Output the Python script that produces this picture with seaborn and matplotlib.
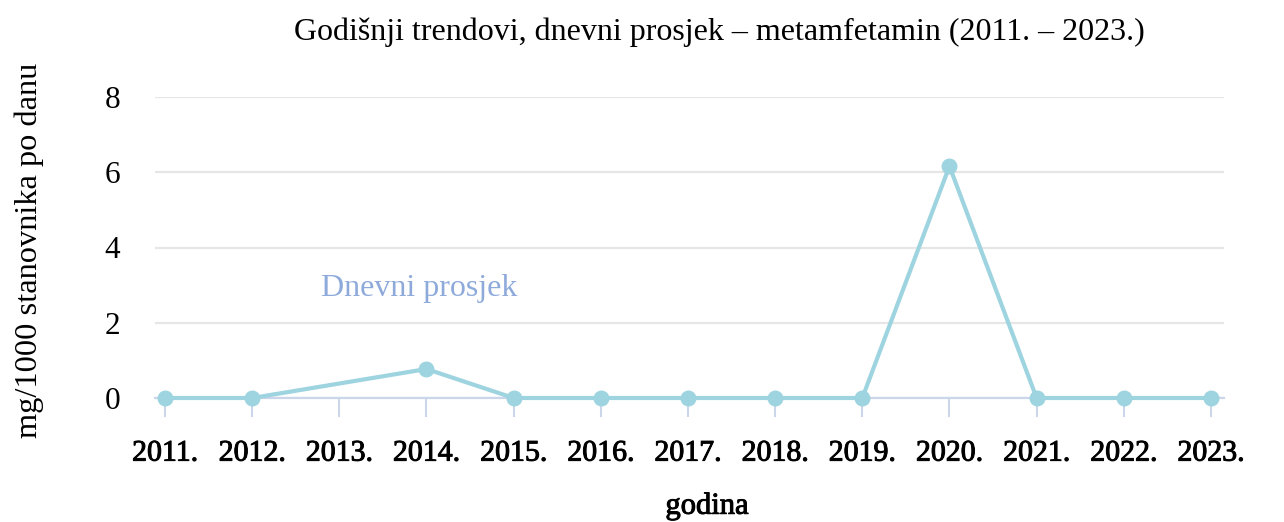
import pandas as pd
import numpy as np
import matplotlib
matplotlib.use("Agg")
import matplotlib.pyplot as plt
import matplotlib.patheffects as pe
import seaborn as sns

# -------------------------------------------------
# Data (2013. has no measurement)
# -------------------------------------------------
all_years = [2011, 2012, 2013, 2014, 2015, 2016, 2017, 2018, 2019, 2020, 2021, 2022, 2023]
years = [2011, 2012, 2014, 2015, 2016, 2017, 2018, 2019, 2020, 2021, 2022, 2023]
values = [0.0, 0.0, 0.77, 0.0, 0.0, 0.0, 0.0, 0.0, 6.16, 0.0, 0.0, 0.0]
tick_labels = [f"{y}." for y in all_years]
y_ticks = [0, 2, 4, 6, 8]

df = pd.DataFrame({"godina": years, "prosjek": values})

# -------------------------------------------------
# Style
# -------------------------------------------------
sns.set_style("white")
plt.rcParams["font.family"] = ["Liberation Serif", "DejaVu Serif"]
plt.rcParams["text.color"] = "black"
plt.rcParams["xtick.color"] = "black"
plt.rcParams["ytick.color"] = "black"

line_color = "#9dd4e0"
axis_color = "#ccd6eb"
grid_color = "#e6e6e6"
heavy = [pe.withStroke(linewidth=0.7, foreground="black")]

W, H = 1284, 522
fig = plt.figure(figsize=(W / 100, H / 100), dpi=100)
ax = fig.add_axes([155 / W, 1 - 398 / H, (1224 - 155) / W, (398 - 97) / H])

sns.lineplot(data=df, x="godina", y="prosjek", ax=ax, color=line_color,
             linewidth=3, marker="o", markersize=11.5, markeredgewidth=0,
             clip_on=False, zorder=5)

# -------------------------------------------------
# Axes
# -------------------------------------------------
ax.set_ylim(0, 8)
ax.set_xlim(2011 - 0.115, 2023 + 0.15)
ax.set_yticks(y_ticks)
ax.set_yticklabels([str(t) for t in y_ticks], fontsize=22.5)
ax.set_xticks(all_years)
ax.set_xticklabels(tick_labels, fontsize=21.5)
for lbl in ax.get_xticklabels():
    lbl.set_path_effects(heavy)
ax.tick_params(axis="y", left=False, length=0, pad=25)
ax.tick_params(axis="x", bottom=True, length=13.7, width=1.5, color=axis_color,
               labelcolor="black", pad=17, direction="out")

ax.grid(axis="y", color=grid_color, linewidth=1.6)
ax.grid(axis="x", visible=False)
for s in ["top", "right", "left"]:
    ax.spines[s].set_visible(False)
ax.spines["bottom"].set_color(axis_color)
ax.spines["bottom"].set_linewidth(1.6)
ax.set_xlabel("")
ax.set_ylabel("")

# series label near the 2014 point
ax.annotate("Dnevni prosjek", xy=(2014, values[2]), xytext=(-5, 58),
            textcoords="offset points", ha="center", va="center",
            fontsize=23, color="#8eaadb",
            bbox=dict(boxstyle="square,pad=0.3", fc="white", ec="none"))

# -------------------------------------------------
# Titles
# -------------------------------------------------
fig.text(719 / W, 1 - 32 / H, "Godišnji trendovi, dnevni prosjek – metamfetamin (2011. – 2023.)",
         ha="center", va="center", fontsize=23)
fig.text(29 / W, 1 - 250 / H, "mg/1000 stanovnika po danu", rotation=90,
         ha="center", va="center", fontsize=23.3)
fig.text(707 / W, 1 - 506 / H, "godina", ha="center", va="center",
         fontsize=22, path_effects=heavy)

fig.savefig("out.png", dpi=100)
